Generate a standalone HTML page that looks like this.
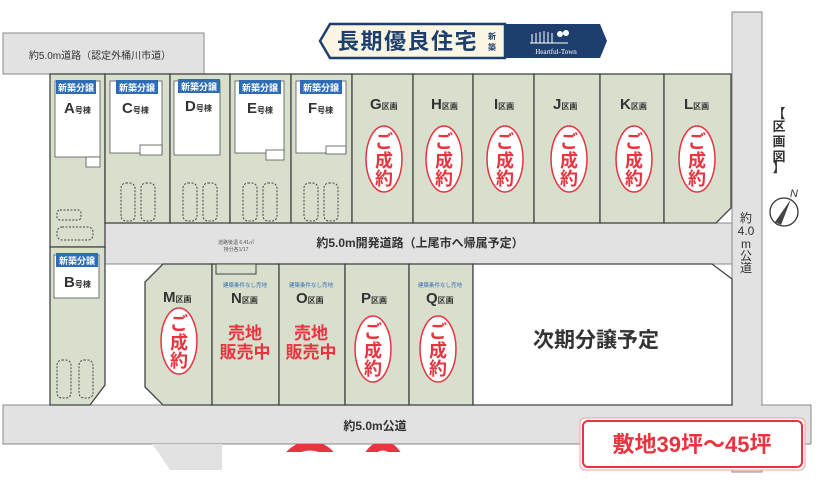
<!DOCTYPE html>
<html><head><meta charset="utf-8"><style>
html,body{margin:0;padding:0;background:#fff;}
svg{display:block;font-family:"Liberation Sans","Noto Sans CJK JP",sans-serif;}
.lot{fill:#d9dfcd;stroke:#444;stroke-width:1.3}
.road{fill:#e2e2e2;stroke:#888;stroke-width:1}
.lbl{font-weight:bold;fill:#333;font-size:15px}
.sm{font-size:8px;font-weight:bold;fill:#333}
.red{fill:#e8343f;font-weight:bold}
.ov{fill:#fff;stroke:#e8343f;stroke-width:1.5}
.house{fill:#fff;stroke:#555;stroke-width:0.8}
.badge{fill:#2e6cb5}
.bt{fill:#fff;font-size:9px;font-weight:bold}
.car{fill:none;stroke:#444;stroke-width:1;stroke-dasharray:2 1.5}
</style></head><body>
<svg width="822" height="493" viewBox="0 0 822 493">
<defs><clipPath id="cp"><rect x="270" y="444" width="140" height="8"/></clipPath></defs>
<!-- roads -->
<rect class="road" x="3" y="33" width="201" height="41"/>
<text x="100" y="59" text-anchor="middle" font-size="10" fill="#333">約5.0m道路（認定外桶川市道）</text>
<rect class="road" x="732" y="12" width="30" height="460"/>
<rect class="road" x="105" y="223" width="627" height="41" stroke="none"/>
<rect class="road" x="3" y="405" width="808" height="39"/>
<rect x="733" y="404" width="28" height="42" fill="#e2e2e2"/>
<polygon points="152,444 222,444 222,470 170,470 158,452" fill="#e2e2e2"/>
<text x="420" y="247" text-anchor="middle" font-size="12" font-weight="bold" fill="#333">約5.0m開発道路（上尾市へ帰属予定）</text>
<text x="375" y="430" text-anchor="middle" font-size="12" font-weight="bold" fill="#333">約5.0m公道</text>
<text font-size="12" fill="#333" text-anchor="middle"><tspan x="746" y="222">約</tspan><tspan x="746" y="235">4.0</tspan><tspan x="746" y="248">m</tspan><tspan x="746" y="260">公</tspan><tspan x="746" y="272">道</tspan></text>

<!-- banner -->
<polygon points="330,24 505,24 505,58 330,58 320,41" fill="#fbf6e4" stroke="#1e3f6e" stroke-width="2.5"/>
<polygon points="505,24 600,24 607,41 600,58 505,58" fill="#1e3f6e"/>
<text x="337" y="49" font-size="22" font-weight="bold" fill="#1e3f6e" letter-spacing="1.5">長期優良住宅</text>
<text x="488" y="39" font-size="8" font-weight="bold" fill="#1e3f6e">新</text>
<text x="488" y="50" font-size="8" font-weight="bold" fill="#1e3f6e">築</text>
<g stroke="#fff" stroke-width="1"><line x1="530" y1="43" x2="568" y2="43"/><line x1="532" y1="34" x2="532" y2="43"/><line x1="536" y1="33" x2="536" y2="43"/><line x1="540" y1="32" x2="540" y2="43"/><line x1="544" y1="31" x2="544" y2="43"/><line x1="548" y1="32" x2="548" y2="43"/><line x1="552" y1="33" x2="552" y2="43"/></g>
<circle cx="560" cy="34" r="3" fill="#fff"/><circle cx="566" cy="33" r="3" fill="#fff"/>
<text x="556" y="54" text-anchor="middle" font-size="7" fill="#fff" font-family="Liberation Serif,serif">Heartful-Town</text>

<!-- top lots -->
<rect class="lot" x="50" y="74" width="55" height="173"/>
<rect class="lot" x="105" y="74" width="65" height="149"/>
<rect class="lot" x="170" y="74" width="60" height="149"/>
<rect class="lot" x="230" y="74" width="61" height="149"/>
<rect class="lot" x="291" y="74" width="61" height="149"/>
<rect class="lot" x="352" y="74" width="61" height="149"/>
<rect class="lot" x="413" y="74" width="60" height="149"/>
<rect class="lot" x="473" y="74" width="61" height="149"/>
<rect class="lot" x="534" y="74" width="66" height="149"/>
<rect class="lot" x="600" y="74" width="64" height="149"/>
<polygon class="lot" points="664,74 731,74 731,208 716,223 664,223"/>
<polygon class="lot" points="50,247 105,247 105,385 90,405 50,405"/>

<!-- houses -->
<rect class="house" x="55" y="81" width="45" height="76"/><rect class="house" x="86" y="157" width="14" height="10"/>
<rect class="house" x="110" y="81" width="52" height="72"/><rect class="house" x="140" y="145" width="22" height="10"/>
<rect class="house" x="174" y="81" width="46" height="74"/>
<rect class="house" x="235" y="81" width="49" height="72"/><rect class="house" x="266" y="150" width="18" height="10"/>
<rect class="house" x="296" y="81" width="50" height="72"/><rect class="house" x="326" y="146" width="20" height="8"/>
<rect class="house" x="54" y="255" width="45" height="43"/>
<g>
<rect class="badge" x="56" y="80" width="40" height="14"/><text class="bt" x="76" y="91" text-anchor="middle">新築分譲</text>
<rect class="badge" x="116" y="80" width="42" height="14"/><text class="bt" x="137" y="91" text-anchor="middle">新築分譲</text>
<rect class="badge" x="178" y="79" width="42" height="14"/><text class="bt" x="199" y="90" text-anchor="middle">新築分譲</text>
<rect class="badge" x="239" y="80" width="42" height="14"/><text class="bt" x="260" y="91" text-anchor="middle">新築分譲</text>
<rect class="badge" x="300" y="80" width="42" height="14"/><text class="bt" x="321" y="91" text-anchor="middle">新築分譲</text>
<rect class="badge" x="56" y="253" width="42" height="14"/><text class="bt" x="77" y="264" text-anchor="middle">新築分譲</text>
</g>
<text class="lbl" x="64" y="113">A<tspan class="sm">号棟</tspan></text>
<text class="lbl" x="122" y="113">C<tspan class="sm">号棟</tspan></text>
<text class="lbl" x="185" y="111">D<tspan class="sm">号棟</tspan></text>
<text class="lbl" x="247" y="113">E<tspan class="sm">号棟</tspan></text>
<text class="lbl" x="308" y="113">F<tspan class="sm">号棟</tspan></text>
<text class="lbl" x="64" y="287">B<tspan class="sm">号棟</tspan></text>

<!-- cars -->
<g>
<rect class="car" x="121" y="183" width="14" height="38" rx="5"/><rect class="car" x="141" y="183" width="14" height="38" rx="5"/>
<rect class="car" x="183" y="183" width="14" height="38" rx="5"/><rect class="car" x="203" y="183" width="14" height="38" rx="5"/>
<rect class="car" x="243" y="183" width="14" height="38" rx="5"/><rect class="car" x="263" y="183" width="14" height="38" rx="5"/>
<rect class="car" x="304" y="183" width="14" height="38" rx="5"/><rect class="car" x="324" y="183" width="14" height="38" rx="5"/>
<rect class="car" x="57" y="210" width="24" height="10" rx="3"/><rect class="car" x="57" y="227" width="36" height="13" rx="5"/>
<rect class="car" x="57" y="360" width="14" height="38" rx="5"/><rect class="car" x="79" y="360" width="14" height="38" rx="5"/>
</g>

<!-- top lot labels + ovals -->
<g>
<text class="lbl" x="370" y="109">G<tspan class="sm">区画</tspan></text>
<text class="lbl" x="431" y="109">H<tspan class="sm">区画</tspan></text>
<text class="lbl" x="494" y="109">I<tspan class="sm">区画</tspan></text>
<text class="lbl" x="553" y="109">J<tspan class="sm">区画</tspan></text>
<text class="lbl" x="620" y="109">K<tspan class="sm">区画</tspan></text>
<text class="lbl" x="684" y="109">L<tspan class="sm">区画</tspan></text>
</g>
<g>
<ellipse class="ov" cx="384" cy="159" rx="18" ry="33"/>
<ellipse class="ov" cx="444" cy="159" rx="18" ry="33"/>
<ellipse class="ov" cx="505" cy="159" rx="18" ry="33"/>
<ellipse class="ov" cx="569" cy="159" rx="18" ry="33"/>
<ellipse class="ov" cx="634" cy="159" rx="18" ry="33"/>
<ellipse class="ov" cx="697" cy="159" rx="18" ry="33"/>
</g>
<g class="red" font-size="18" text-anchor="middle">
<text x="384" y="148">ご</text><text x="384" y="167">成</text><text x="384" y="185">約</text>
<text x="444" y="148">ご</text><text x="444" y="167">成</text><text x="444" y="185">約</text>
<text x="505" y="148">ご</text><text x="505" y="167">成</text><text x="505" y="185">約</text>
<text x="569" y="148">ご</text><text x="569" y="167">成</text><text x="569" y="185">約</text>
<text x="634" y="148">ご</text><text x="634" y="167">成</text><text x="634" y="185">約</text>
<text x="697" y="148">ご</text><text x="697" y="167">成</text><text x="697" y="185">約</text>
</g>

<!-- bottom lots -->
<polygon class="lot" points="163,264 212,264 212,405 163,405 145,387 145,282"/>
<rect class="lot" x="212" y="264" width="67" height="141"/>
<rect class="lot" x="279" y="264" width="66" height="141"/>
<rect class="lot" x="345" y="264" width="64" height="141"/>
<rect class="lot" x="409" y="264" width="64" height="141"/>
<polygon points="473,264 712,264 732,279 732,405 473,405" fill="#fff" stroke="#444" stroke-width="1.3"/>
<rect x="216" y="264" width="40" height="10" fill="#d9dfcd" stroke="#444" stroke-width="1"/>
<text x="236" y="244" font-size="5" fill="#555" text-anchor="middle">道路後退 6.41㎡</text>
<text x="236" y="251" font-size="5" fill="#555" text-anchor="middle">持分各1/17</text>

<text class="lbl" x="163" y="302">M<tspan class="sm">区画</tspan></text>
<text class="lbl" x="231" y="303">N<tspan class="sm">区画</tspan></text>
<text class="lbl" x="296" y="303">O<tspan class="sm">区画</tspan></text>
<text class="lbl" x="361" y="303">P<tspan class="sm">区画</tspan></text>
<text class="lbl" x="426" y="303">Q<tspan class="sm">区画</tspan></text>
<g font-size="5.5" fill="#2e6cb5" text-anchor="middle">
<text x="245" y="287">建築条件なし売地</text><text x="311" y="287">建築条件なし売地</text><text x="440" y="287">建築条件なし売地</text>
</g>
<ellipse class="ov" cx="179" cy="341" rx="18" ry="33"/>
<ellipse class="ov" cx="373" cy="349" rx="18" ry="33"/>
<ellipse class="ov" cx="438" cy="349" rx="18" ry="33"/>
<g class="red" font-size="18" text-anchor="middle">
<text x="179" y="330">ご</text><text x="179" y="349">成</text><text x="179" y="367">約</text>
<text x="373" y="338">ご</text><text x="373" y="357">成</text><text x="373" y="375">約</text>
<text x="438" y="338">ご</text><text x="438" y="357">成</text><text x="438" y="375">約</text>
</g>
<g class="red" font-size="17" text-anchor="middle">
<text x="245" y="339">売地</text><text x="245" y="358">販売中</text>
<text x="311" y="339">売地</text><text x="311" y="358">販売中</text>
</g>
<text x="596" y="347" text-anchor="middle" font-size="21" font-weight="bold" fill="#333">次期分譲予定</text>

<!-- red partial shapes below road -->
<g clip-path="url(#cp)" fill="none" stroke="#e8343f" stroke-width="9">
<ellipse cx="310" cy="470" rx="26" ry="24"/>
<ellipse cx="383" cy="470" rx="18" ry="24"/>
</g>

<!-- right side -->
<text font-size="13" font-weight="bold" fill="#333" text-anchor="middle"><tspan x="779" y="118">【</tspan><tspan x="779" y="131">区</tspan><tspan x="779" y="146">画</tspan><tspan x="779" y="161">図</tspan><tspan x="779" y="172">】</tspan></text>
<circle cx="784" cy="212" r="14" fill="#fff" stroke="#333" stroke-width="1.3"/>
<polygon points="791,199 775,222 781,225" fill="#444"/>
<text x="790" y="197" font-size="11" font-style="italic" fill="#333">N</text>

<!-- bottom box -->
<rect x="580" y="418" width="225" height="52" rx="5" fill="#fff" stroke="#f2a0a6" stroke-width="1"/>
<rect x="583" y="421" width="219" height="46" rx="5" fill="#fff" stroke="#e8343f" stroke-width="2"/>
<text x="692" y="452" text-anchor="middle" font-size="22" font-weight="bold" fill="#e8343f">敷地39坪～45坪</text>
</svg>
</body></html>
